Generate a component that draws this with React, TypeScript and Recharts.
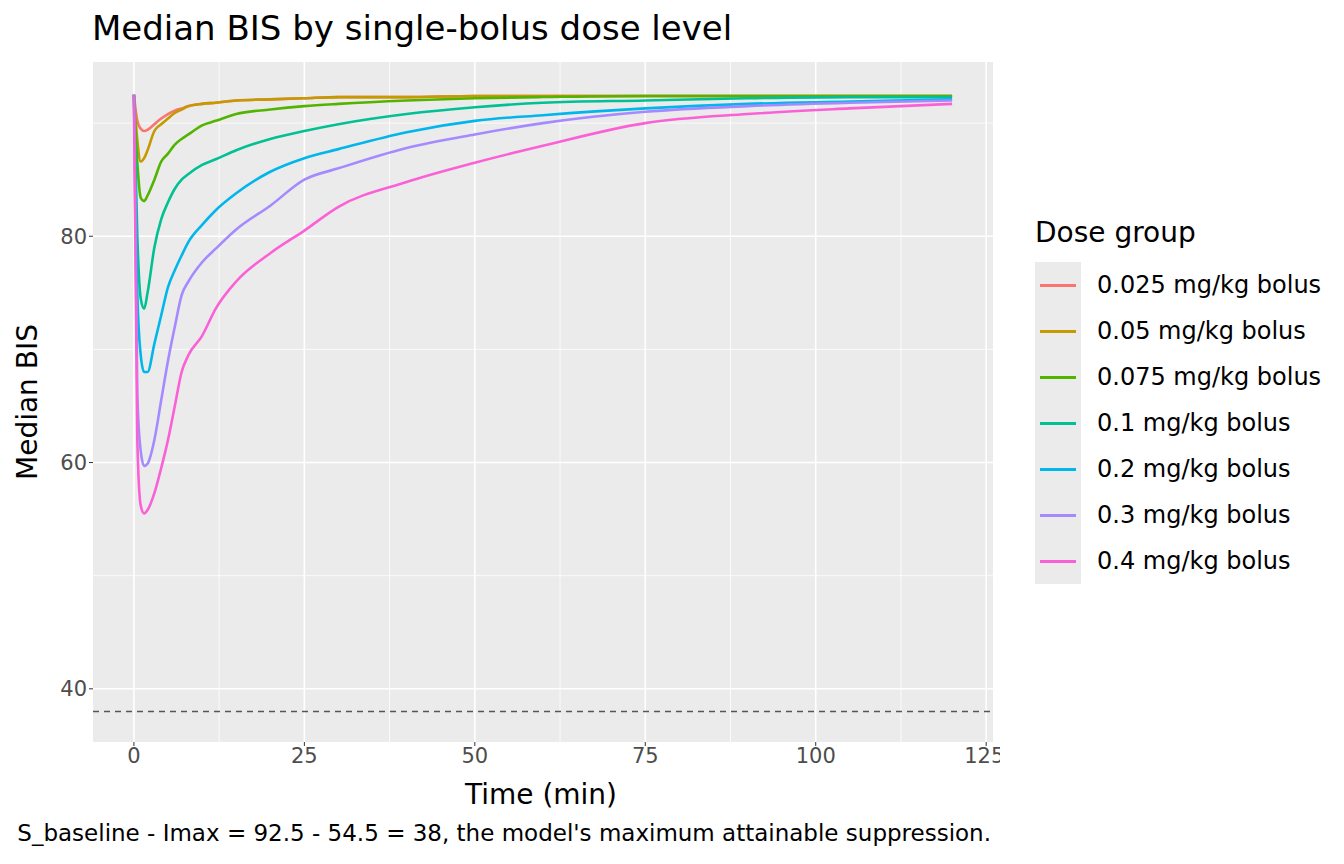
import { LineChart, Line, XAxis, YAxis, ReferenceLine, ReferenceArea } from "recharts";

const times = [0, 0.5, 1, 1.5, 2, 3, 4, 5, 6, 7, 8, 10, 12, 15, 20, 25, 30, 40, 50, 60, 75, 90, 105, 120];

const doseGroups = [
  "0.025 mg/kg bolus",
  "0.05 mg/kg bolus",
  "0.075 mg/kg bolus",
  "0.1 mg/kg bolus",
  "0.2 mg/kg bolus",
  "0.3 mg/kg bolus",
  "0.4 mg/kg bolus",
];

const colors = ["#F8766D", "#C49A00", "#53B400", "#00C094", "#00B6EB", "#A58AFF", "#FB61D7"];

const bis025 = [92.5, 90.2, 89.5, 89.3, 89.4, 89.9, 90.4, 90.8, 91.1, 91.3, 91.5, 91.7, 91.8, 92.0, 92.1, 92.2, 92.3, 92.3, 92.4, 92.4, 92.4, 92.4, 92.4, 92.4];
const bis05 = [92.5, 88.5, 86.6, 86.9, 87.6, 89.3, 89.9, 90.4, 90.9, 91.2, 91.5, 91.7, 91.8, 92.0, 92.1, 92.2, 92.3, 92.3, 92.4, 92.4, 92.4, 92.4, 92.4, 92.4];
const bis075 = [92.5, 86.5, 83.4, 83.1, 83.6, 85.0, 86.6, 87.3, 88.1, 88.6, 89.0, 89.8, 90.2, 90.8, 91.2, 91.5, 91.7, 92.0, 92.2, 92.3, 92.4, 92.4, 92.4, 92.4];
const bis1 = [92.5, 80.0, 74.5, 73.6, 75.0, 79.0, 81.5, 83.0, 84.2, 85.0, 85.5, 86.3, 86.8, 87.6, 88.6, 89.3, 89.9, 90.8, 91.4, 91.8, 92.0, 92.2, 92.3, 92.3];
const bis2 = [92.5, 75.0, 69.5, 68.0, 68.0, 70.5, 73.0, 75.5, 77.0, 78.3, 79.5, 81.0, 82.3, 83.8, 85.7, 86.9, 87.7, 89.2, 90.2, 90.7, 91.3, 91.7, 91.9, 92.1];
const bis3 = [92.5, 66.0, 61.0, 59.7, 59.9, 62.0, 65.5, 69.0, 72.0, 74.8, 76.0, 77.7, 78.9, 80.6, 82.7, 85.0, 86.0, 87.8, 89.0, 90.0, 91.0, 91.5, 91.8, 92.0];
const bis4 = [92.5, 62.0, 56.2, 55.5, 55.8, 57.3, 59.5, 62.0, 65.0, 68.0, 69.5, 71.2, 73.6, 76.0, 78.5, 80.5, 82.6, 84.8, 86.5, 88.0, 90.0, 90.8, 91.3, 91.7];

const series = [bis025, bis05, bis075, bis1, bis2, bis3, bis4];

const xMajor = [0, 25, 50, 75, 100, 125];
const xMinor = [12.5, 37.5, 62.5, 87.5, 112.5];
const yMajor = [40, 60, 80];
const yMinor = [50, 70, 90];

const data = times.map((t, i) => {
  const row: Record<string, number> = { t };
  series.forEach((s, k) => (row["s" + k] = s[i]));
  return row;
});

const font = "DejaVu Sans, sans-serif";

export default function App() {
  return (
    <div style={{ position: "fixed", left: 0, top: 0, width: 1344, height: 864, background: "#fff", fontFamily: font, overflow: "hidden" }}>
      <div style={{ position: "absolute", left: 92, top: 8, fontSize: 34, color: "#000", whiteSpace: "nowrap" }}>
        Median BIS by single-bolus dose level
      </div>
      <LineChart width={1000} height={864} data={data} margin={{ top: 62, right: 7, bottom: 92, left: 0 }}>
        <ReferenceArea x1={-6} x2={126} y1={35.3} y2={95.4} fill="#EBEBEB" fillOpacity={1} stroke="none" />
        {xMinor.map((v) => <ReferenceLine key={"xm" + v} x={v} stroke="#fff" strokeWidth={0.8} />)}
        {yMinor.map((v) => <ReferenceLine key={"ym" + v} y={v} stroke="#fff" strokeWidth={0.8} />)}
        {xMajor.map((v) => <ReferenceLine key={"xM" + v} x={v} stroke="#fff" strokeWidth={1.6} />)}
        {yMajor.map((v) => <ReferenceLine key={"yM" + v} y={v} stroke="#fff" strokeWidth={1.6} />)}
        <XAxis
          dataKey="t"
          type="number"
          domain={[-6, 126]}
          ticks={xMajor}
          allowDataOverflow
          height={30}
          axisLine={false}
          tickLine={{ stroke: "#333" }}
          tickSize={4}
          tick={{ fill: "#4D4D4D", fontSize: 21, fontFamily: font }}
        />
        <YAxis
          type="number"
          domain={[35.3, 95.4]}
          ticks={yMajor}
          allowDataOverflow
          width={93}
          axisLine={false}
          tickLine={{ stroke: "#333" }}
          tickSize={4}
          tick={{ fill: "#4D4D4D", fontSize: 21, fontFamily: font }}
        />
        <ReferenceLine y={38} stroke="#555" strokeWidth={1.5} strokeDasharray="6 5" />
        {series.map((_, k) => (
          <Line
            key={k}
            dataKey={"s" + k}
            type="monotone"
            stroke={colors[k]}
            strokeWidth={2.6}
            dot={false}
            isAnimationActive={false}
          />
        ))}
      </LineChart>
      <div style={{ position: "absolute", left: 341, width: 400, textAlign: "center", top: 778, fontSize: 28 }}>Time (min)</div>
      <div style={{ position: "absolute", left: 27, top: 402, transform: "translate(-50%,-50%) rotate(-90deg)", fontSize: 28, whiteSpace: "nowrap" }}>Median BIS</div>
      <div style={{ position: "absolute", right: 353, top: 820, fontSize: 23, whiteSpace: "nowrap" }}>
        S_baseline - Imax = 92.5 - 54.5 = 38, the model's maximum attainable suppression.
      </div>
      <div style={{ position: "absolute", left: 1035, top: 216 }}>
        <div style={{ fontSize: 28, height: 46, whiteSpace: "nowrap" }}>Dose group</div>
        <div style={{ background: "#EBEBEB", width: 46, position: "absolute", top: 46, height: 322 }} />
        {doseGroups.map((g, k) => (
          <div key={g} style={{ position: "relative", height: 46, display: "flex", alignItems: "center", whiteSpace: "nowrap" }}>
            <div style={{ width: 46, display: "flex", justifyContent: "center" }}>
              <div style={{ width: 36, height: 3, background: colors[k] }} />
            </div>
            <div style={{ fontSize: 24, marginLeft: 16 }}>{g}</div>
          </div>
        ))}
      </div>
    </div>
  );
}
